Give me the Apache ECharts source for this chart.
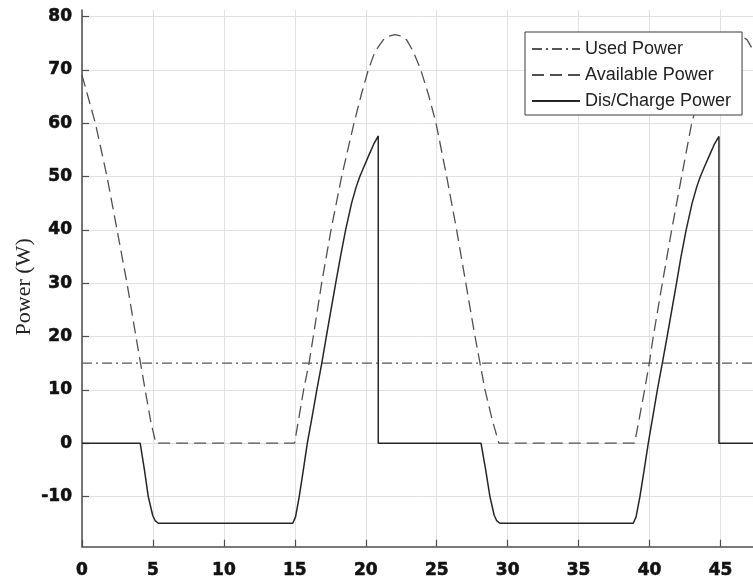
<!DOCTYPE html>
<html><head><meta charset="utf-8">
<script src="https://cdn.jsdelivr.net/npm/echarts@6/dist/echarts.min.js"></script>
<style>html,body{margin:0;padding:0;background:#fff}#c{width:753px;height:580px}</style>
</head><body><div id="c"></div>
<script>
const seriesNames = ['Used Power', 'Available Power', 'Dis/Charge Power'];
const yAxisName = 'Power (W)';

const usedX = [0, 50];
const usedY = [15, 15];

const availX = [0, 0.94, 1.76, 2.47, 3.17, 3.8, 4.45, 4.85, 5.2,
  14.98, 15.3, 15.62, 16.0, 16.3, 16.89, 17.55, 18.3, 19.17, 19.7, 20.18, 20.65, 21.23, 21.6, 22.05,
  22.5, 22.88, 23.35, 23.87, 24.4, 24.95, 25.7, 26.4, 27.05, 27.7, 28.4, 28.95, 29.38,
  38.95, 39.3, 39.65, 39.98, 40.26, 40.9, 41.56, 42.26, 42.97, 43.6, 44.1, 44.6, 45.2, 45.6, 46.05,
  46.5, 46.88, 47.35, 47.87, 48.95, 49.65, 50];
const availY = [69, 60, 50, 40, 30, 20, 10, 4, 0,
  0, 5, 10, 15, 20, 30, 40, 50, 60, 65.5, 70, 73.4, 75.6, 76.3, 76.6,
  76.3, 75.6, 73.4, 70, 65.5, 60, 50, 40, 30, 20, 10, 4, 0,
  0, 5, 10, 15, 20, 30, 40, 50, 60, 66, 70, 73.4, 75.6, 76.3, 76.6,
  76.3, 75.6, 73.4, 70, 60, 50, 45];

const flowX = [0, 4.1, 4.4, 4.67, 4.98, 5.15, 5.38,
  14.85, 15.05, 15.31, 15.6, 15.88, 16.22, 16.55, 16.9, 17.22, 17.88, 18.22, 18.58, 19.0, 19.32, 19.58, 19.9, 20.22, 20.55, 20.88, 20.88,
  28.12, 28.45, 28.75, 29.05, 29.22, 29.45,
  38.85, 39.05, 39.32, 39.62, 39.91, 40.23, 40.55, 40.9, 41.24, 41.9, 42.22, 42.58, 43.0, 43.32, 43.58, 43.9, 44.23, 44.56, 44.89, 44.89, 50];
const flowY = [0, 0, -5, -10, -13.5, -14.5, -15,
  -15, -13.8, -10, -5, 0, 5, 10, 15, 20, 30, 35, 40, 45, 48, 50, 52, 54, 56, 57.6, 0,
  0, -5, -10, -13.5, -14.5, -15,
  -15, -13.8, -10, -5, 0, 5, 10, 15, 20, 30, 35, 40, 45, 48, 50, 52, 54, 56, 57.5, 0, 0];

const pairs = (xs, ys) => xs.map((x, i) => [x, ys[i]]);

const chart = echarts.init(document.getElementById('c'), null, {renderer: 'canvas'});
const axisColor = '#4d4d4d';
const gridColor = '#e1e1e1';
const tickFont = {fontFamily: 'DejaVu Sans', fontWeight: 'bold', fontSize: 17, color: '#111',
  textBorderColor: '#111', textBorderWidth: 0.6};
const noMark = {color: 'rgba(0,0,0,0)', borderColor: 'rgba(0,0,0,0)', borderWidth: 0};

chart.setOption({
  backgroundColor: '#fff',
  animation: false,
  grid: {left: 82, top: 10, right: 0, height: 536.7},
  xAxis: {
    type: 'value', min: 0, max: 47.29, interval: 5,
    axisLine: {show: true, onZero: false, lineStyle: {color: axisColor, width: 1.5}},
    axisTick: {show: true, inside: true, length: 7, lineStyle: {color: axisColor, width: 1.2}},
    axisLabel: Object.assign({margin: 15, showMaxLabel: false,
      formatter: v => (Math.abs(v % 5) < 1e-6 ? String(v) : '')}, tickFont),
    splitLine: {show: true, showMaxLine: false, lineStyle: {color: gridColor, width: 1}}
  },
  yAxis: {
    type: 'value', min: -19.4, max: 81.2, splitNumber: 10, minInterval: 10, maxInterval: 10,
    name: yAxisName, nameLocation: 'middle', nameGap: 47, nameMoveOverlap: false,
    nameTextStyle: {fontFamily: 'Liberation Serif', fontSize: 22, color: '#222', padding: [0, 17, 0, 0]},
    axisLine: {show: true, onZero: false, lineStyle: {color: axisColor, width: 1.5}},
    axisTick: {show: true, inside: true, length: 7, lineStyle: {color: axisColor, width: 1.2}},
    axisLabel: Object.assign({margin: 10, showMinLabel: false, showMaxLabel: false,
      formatter: v => (Math.abs(v % 10) < 1e-6 ? String(v) : '')}, tickFont),
    splitLine: {show: true, showMaxLine: false, showMinLine: false, lineStyle: {color: gridColor, width: 1}}
  },
  legend: {
    orient: 'vertical', left: 525, top: 32,
    backgroundColor: '#fff', borderColor: '#3a3a3a', borderWidth: 1,
    padding: [8, 11, 5, 6], itemGap: 8, itemWidth: 48, itemHeight: 14,
    textStyle: {fontFamily: 'Liberation Sans', fontSize: 18, color: '#222'},
    data: seriesNames
  },
  series: [
    {name: seriesNames[0], type: 'line', data: pairs(usedX, usedY), symbol: 'none',
      lineStyle: {color: '#555', width: 1.3, type: [10, 4, 2, 4]}, itemStyle: noMark},
    {name: seriesNames[1], type: 'line', data: pairs(availX, availY), symbol: 'none',
      lineStyle: {color: '#505050', width: 1.3, type: [12, 6]}, itemStyle: noMark},
    {name: seriesNames[2], type: 'line', data: pairs(flowX, flowY), symbol: 'none',
      lineStyle: {color: '#262626', width: 1.5, type: 'solid'}, itemStyle: noMark}
  ]
});
</script>
</body></html>
